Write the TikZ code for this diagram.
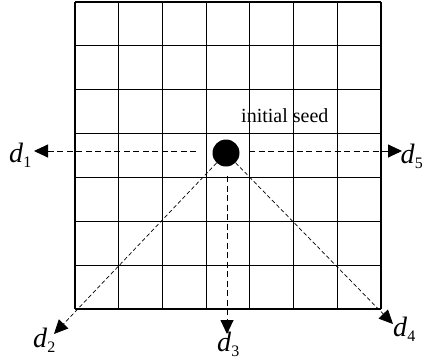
\documentclass[tikz,border=0pt]{standalone}
\usepackage{fontspec}
\setmainfont{Liberation Serif}
\usetikzlibrary{arrows.meta}
\newcommand{\dlab}[1]{\textit{d}\raisebox{-5pt}{\fontsize{16}{16}\selectfont #1}}
\begin{document}
\begin{tikzpicture}[x=1pt,y=-1pt,
  gridline/.style={line width=1.2pt, black},
  dir/.style={dash pattern=on 6pt off 3.5pt, line width=0.9pt, -{Triangle[length=14pt,width=13pt]}},
  diag/.style={dash pattern=on 4pt off 2.5pt, line width=0.7pt, -{Triangle[length=14pt,width=13pt]}},
  lab/.style={font=\rmfamily\fontsize{28}{28}\selectfont, inner sep=0pt},
  seedlab/.style={font=\rmfamily\fontsize{20}{20}\selectfont, inner sep=0pt}]
\useasboundingbox (0,0) rectangle (424,362);
\fill[white] (0,0) rectangle (424,362);
% grid
\foreach \i in {0,...,7} {
  \draw[gridline] ({75+\i*306/7},2) -- ({75+\i*306/7},309);
  \draw[gridline] (75,{2+\i*307/7}) -- (381,{2+\i*307/7});
}
% seed
\node[circle, fill=black, minimum size=27pt, inner sep=0pt] (seed) at (226,153) {};
\node[seedlab, anchor=base west] (seedtext) at (241,122) {initial seed};
% arrow ends
\coordinate (s1) at (196,151);
\coordinate (t1) at (34,151);
\coordinate (s5) at (249,151);
\coordinate (t5) at (402,151);
\coordinate (s3) at (227,176);
\coordinate (t3) at (227,334);
\coordinate (t2) at (54,334);
\coordinate (t4) at (393,324);
\draw[dir] (s1) -- (t1);
\draw[dir] (s5) -- (t5);
\draw[dir] (s3) -- (t3);
\draw[diag] (seed) -- (t2);
\draw[diag] (seed) -- (t4);
% labels
\node[lab, anchor=base west] (d1) at (9,162) {\dlab{1}};
\node[lab, anchor=base east] (d5) at (423,163) {\dlab{5}};
\node[lab, anchor=base west] (d2) at (33,347) {\dlab{2}};
\node[lab, anchor=base west] (d3) at (217,351) {\dlab{3}};
\node[lab, anchor=base west] (d4) at (393,336) {\dlab{4}};
\end{tikzpicture}
\end{document}
